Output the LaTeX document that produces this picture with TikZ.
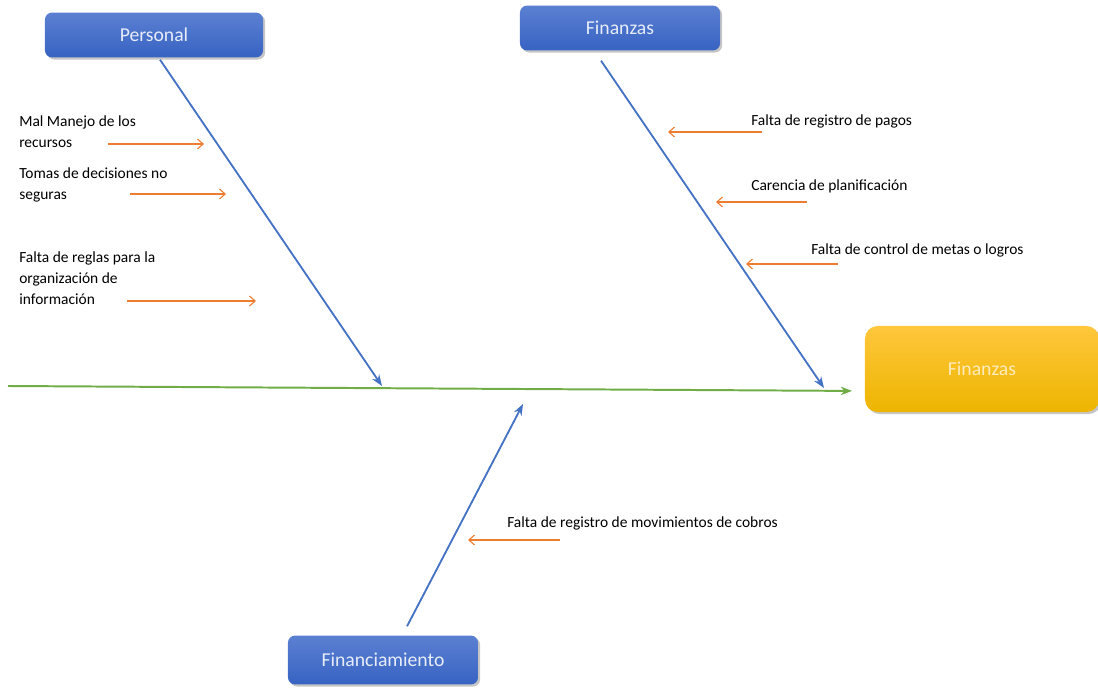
\documentclass[tikz,border=0pt]{standalone}
\usepackage{fontspec}
\setmainfont{Carlito}
\usepackage{tikz}
\usetikzlibrary{arrows.meta,positioning,shadows}
\definecolor{boneblue}{HTML}{4472C4}
\definecolor{causeorange}{HTML}{ED7D31}
\definecolor{spinegreen}{HTML}{70AD47}
\definecolor{boxtop}{HTML}{5B80D2}
\definecolor{boxbot}{HTML}{3763C2}
\definecolor{headtop}{HTML}{FFC73C}
\definecolor{headbot}{HTML}{EDB500}
\tikzset{
  catbox/.style={
    rectangle, rounded corners=5pt, draw=none,
    top color=boxtop, bottom color=boxbot,
    drop shadow={shadow xshift=1.5pt, shadow yshift=-1.5pt, opacity=0.45},
    text=white!85!boxtop, font=\fontsize{14}{16}\selectfont,
    align=center, inner sep=0pt
  },
  headbox/.style={
    rectangle, rounded corners=9pt, draw=none,
    top color=headtop, bottom color=headbot,
    drop shadow={shadow xshift=1.5pt, shadow yshift=-1.5pt, opacity=0.45},
    text=headtop!35!white, font=\fontsize{14}{16}\selectfont,
    align=center, inner sep=0pt
  },
  causetext/.style={
    anchor=north west, align=left, inner sep=0pt,
    font=\fontsize{11}{15}\selectfont
  },
  bone/.style={
    -{Stealth[length=8pt,width=6pt]}, boneblue, line width=1.3pt
  },
  causearrow/.style={
    -{Straight Barb[length=4pt,width=7pt]}, causeorange, line width=0.8pt
  },
  spine/.style={
    -{Stealth[length=8pt,width=6pt]}, spinegreen, line width=1.4pt
  },
}
\begin{document}
\begin{tikzpicture}[x=0.025cm, y=-0.025cm]
  \useasboundingbox (0,0) rectangle (1098,688);

  % categories and effect
  \node[catbox, minimum width=5.45cm, minimum height=1.12cm] (pers) at (154,35) {Personal};
  \node[catbox, minimum width=5.0cm, minimum height=1.12cm] (fin) at (620,28) {Finanzas};
  \node[catbox, minimum width=4.75cm, minimum height=1.22cm] (fcm) at (383,660) {Financiamiento};
  \node[headbox, minimum width=5.85cm, minimum height=2.15cm] (head) at (982,369) {Finanzas};

  % spine
  \coordinate (tail) at (8,386);
  \draw[spine, shorten >=9pt] (tail) -- (head.west |- 0,391);

  % bones
  \coordinate (persend) at (382,386);
  \coordinate (finend) at (824,388);
  \coordinate (fcmend) at (523,404);
  \draw[bone] ([shift={(6,2)}]pers.south) -- (persend);
  \draw[bone] ([shift={(-19,10)}]fin.south) -- (finend);
  \draw[bone] ([shift={(24,-9)}]fcm.north) -- (fcmend);

  % causes
  \node[causetext] (c1) at (19,115) {Mal Manejo de los\\recursos};
  \node[causetext] (c2) at (19,167) {Tomas de decisiones no\\seguras};
  \node[causetext] (c3) at (19,251) {Falta de reglas para la\\organización de\\información};
  \node[causetext] (c4) at (751,114) {Falta de registro de pagos};
  \node[causetext] (c5) at (751,179) {Carencia de planificación};
  \node[causetext] (c6) at (811,243) {Falta de control de metas o logros};
  \node[causetext] (c7) at (507,516) {Falta de registro de movimientos de cobros};

  \coordinate (a1s) at (108,144); \coordinate (a1e) at (204,144);
  \coordinate (a2s) at (130,194); \coordinate (a2e) at (226,194);
  \coordinate (a3s) at (127,301); \coordinate (a3e) at (256,301);
  \coordinate (a4s) at (762,132); \coordinate (a4e) at (668,132);
  \coordinate (a5s) at (807,202); \coordinate (a5e) at (716,202);
  \coordinate (a6s) at (838,264); \coordinate (a6e) at (746,264);
  \coordinate (a7s) at (560,540); \coordinate (a7e) at (468,540);
  \draw[causearrow] (a1s) -- (a1e);
  \draw[causearrow] (a2s) -- (a2e);
  \draw[causearrow] (a3s) -- (a3e);
  \draw[causearrow] (a4s) -- (a4e);
  \draw[causearrow] (a5s) -- (a5e);
  \draw[causearrow] (a6s) -- (a6e);
  \draw[causearrow] (a7s) -- (a7e);
\end{tikzpicture}
\end{document}
